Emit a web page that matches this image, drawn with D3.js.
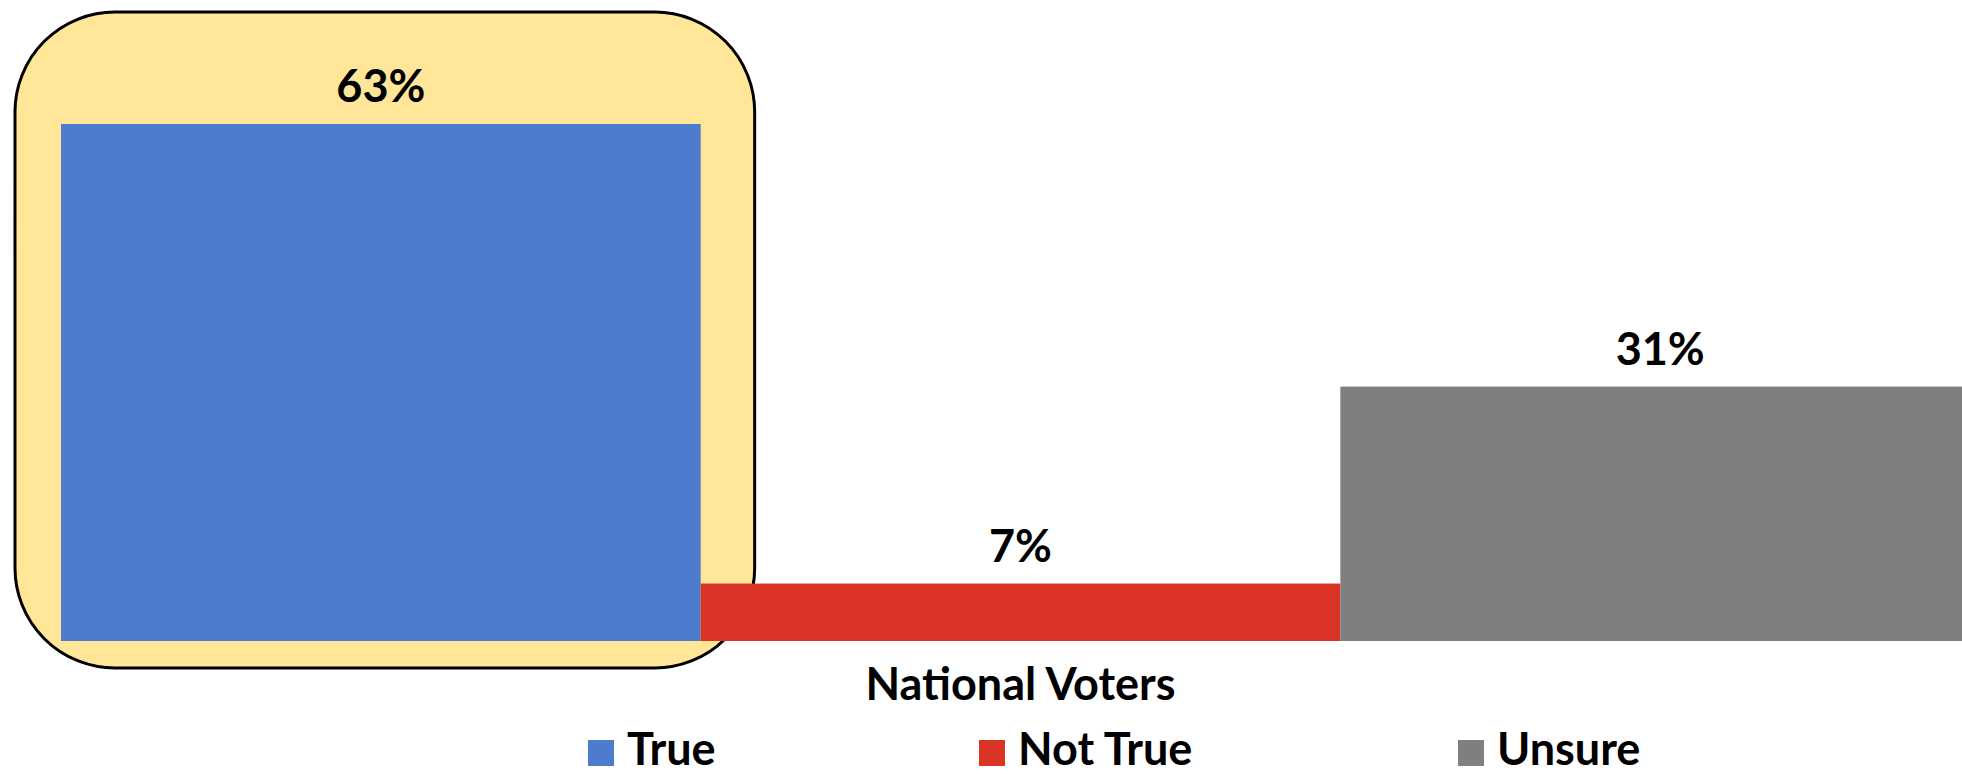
<!DOCTYPE html>
<meta charset="utf-8">
<script src="https://d3js.org/d3.v7.min.js"></script>
<style>
  body { margin: 0; background: #fff; }
  text { font-family: Lato, "Open Sans", sans-serif; font-weight: bold; fill: #000; }
</style>
<div id="chart"></div>
<script>
  // data
  const categories = ["True", "Not True", "Unsure"];
  const values = [63, 7, 31];
  const colors = ["#4d7ccf", "#dc3327", "#7f7f7f"];
  const axisLabel = "National Voters";
  const highlight = "True";

  const W = 1962, H = 774;
  const margin = { top: 124, right: -18, bottom: 133, left: 61 };
  const baseY = H - margin.bottom;
  const fontSize = "45px";

  const svg = d3.select("#chart")
    .append("svg")
    .attr("width", W)
    .attr("height", H);

  const x = d3.scaleBand()
    .domain(categories)
    .range([margin.left, W - margin.right])
    .padding(0);

  const y = d3.scaleLinear()
    .domain([0, d3.max(values)])
    .range([baseY, margin.top]);

  // highlight box round the first bar
  svg.append("rect")
    .attr("x", x(highlight) - 46)
    .attr("y", 12)
    .attr("width", x.bandwidth() + 46 + 54)
    .attr("height", baseY + 27 - 12)
    .attr("rx", 100)
    .attr("ry", 100)
    .style("fill", "#ffe699")
    .style("stroke", "#000")
    .style("stroke-width", 3);

  // bars
  svg.append("g")
    .selectAll("rect")
    .data(categories)
    .join("rect")
    .attr("x", d => x(d))
    .attr("y", (d, i) => y(values[i]))
    .attr("width", x.bandwidth())
    .attr("height", (d, i) => baseY - y(values[i]))
    .style("fill", (d, i) => colors[i]);

  // value labels
  svg.append("g")
    .selectAll("text")
    .data(categories)
    .join("text")
    .attr("x", d => x(d) + x.bandwidth() / 2)
    .attr("y", (d, i) => y(values[i]) - 22)
    .attr("text-anchor", "middle")
    .style("font-size", fontSize)
    .text((d, i) => values[i] + "%");

  // category axis label
  svg.append("text")
    .attr("x", (margin.left + W - margin.right) / 2)
    .attr("y", 700)
    .attr("text-anchor", "middle")
    .style("font-size", fontSize)
    .text(axisLabel);

  // legend
  const legendX = [588, 979, 1458];
  const legend = svg.append("g")
    .selectAll("g")
    .data(categories)
    .join("g")
    .attr("transform", (d, i) => `translate(${legendX[i]}, 740)`);
  legend.append("rect")
    .attr("width", 26)
    .attr("height", 26)
    .style("fill", (d, i) => colors[i]);
  legend.append("text")
    .attr("x", 39)
    .attr("y", 25)
    .style("font-size", fontSize)
    .text(d => d);
</script>
